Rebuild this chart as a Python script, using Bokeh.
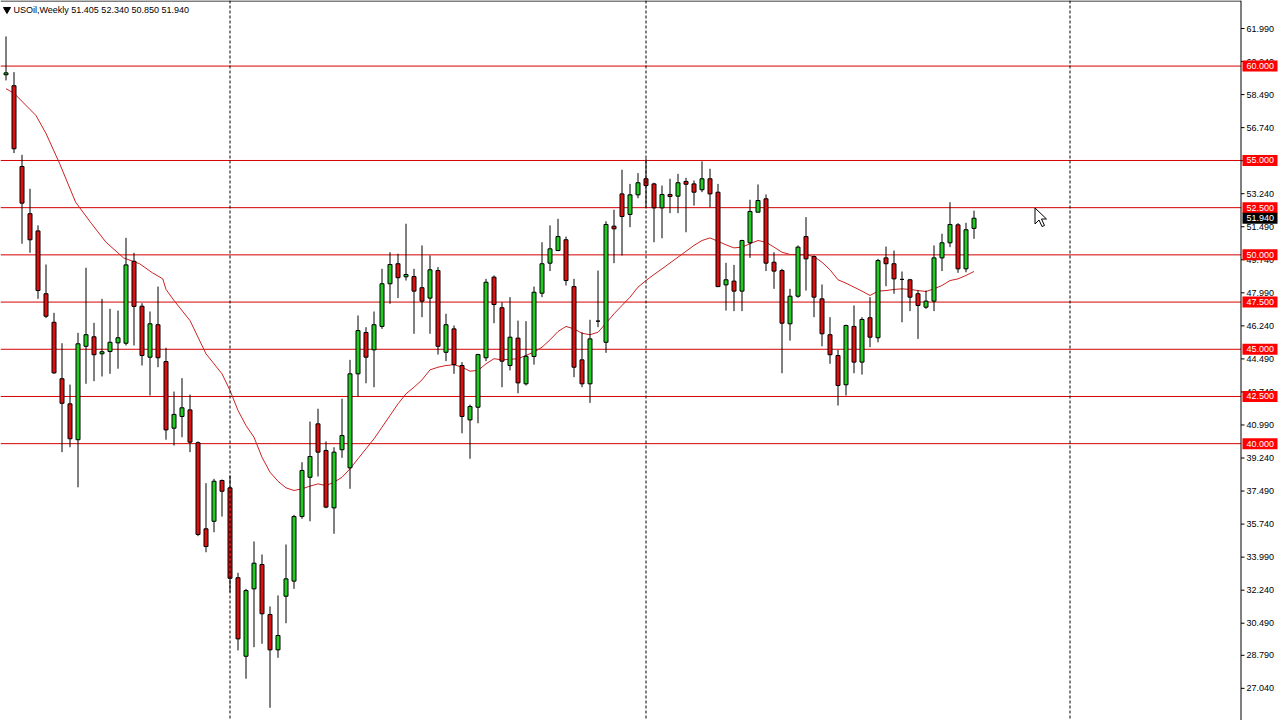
from bokeh.plotting import figure
from bokeh.models import Span, Range1d, ColumnDataSource
from bokeh.core.properties import value
from bokeh.embed import file_html
from bokeh.resources import INLINE

symbol_text = "USOil,Weekly  51.405 52.340 50.850 51.940"

opens = [59.54, 58.96, 54.68, 52.18, 51.27, 47.94, 46.43, 43.44, 42.11, 40.21,
         45.16, 45.66, 44.76, 44.88, 45.34, 45.32, 49.66, 47.28, 44.58, 46.30,
         44.35, 40.82, 41.44, 41.79, 40.05, 35.49, 35.89, 38.05, 37.66, 32.90,
         28.74, 32.31, 33.60, 30.95, 29.08, 31.92, 32.72, 36.14, 38.22, 41.05,
         39.64, 36.60, 39.68, 38.72, 43.70, 45.89, 44.97, 46.21, 48.47, 49.53,
         48.84, 48.85, 48.26, 47.71, 49.17, 44.84, 46.08, 44.14, 41.26, 41.93,
         44.55, 48.82, 47.20, 44.14, 45.59, 43.17, 44.62, 47.97, 49.56, 50.23,
         50.80, 48.32, 44.44, 43.17, 46.49, 45.37, 51.52, 53.23, 52.14, 53.18,
         54.03, 53.76, 52.49, 53.20, 53.11, 53.89, 53.76, 53.45, 54.03, 53.32,
         48.41, 48.61, 48.08, 50.64, 52.26, 52.97, 49.61, 49.17, 46.35, 47.81,
         50.97, 49.91, 47.67, 45.77, 44.67, 43.12, 46.21, 44.32, 46.67, 45.61,
         49.84, 49.53, 48.70, 48.68, 47.94, 47.23, 47.55, 49.84, 50.64, 51.59,
         49.26, 51.405]
highs = [61.57, 59.68, 55.30, 53.50, 51.56, 49.49, 46.93, 45.32, 43.13, 45.87,
         49.32, 46.40, 47.67, 47.14, 47.05, 50.90, 50.11, 47.44, 47.00, 48.32,
         45.08, 42.76, 43.47, 42.60, 40.12, 37.91, 38.14, 38.10, 38.31, 33.16,
         32.31, 34.82, 34.13, 31.38, 31.96, 34.66, 36.23, 39.02, 41.17, 41.85,
         40.12, 39.81, 42.38, 44.44, 46.79, 46.17, 47.00, 49.26, 50.14, 50.06,
         51.65, 49.26, 50.50, 49.97, 49.35, 46.88, 46.26, 44.32, 42.07, 44.76,
         48.73, 48.91, 47.49, 47.76, 46.52, 46.49, 48.32, 50.67, 51.56, 51.91,
         50.97, 48.73, 45.90, 46.56, 49.17, 51.78, 52.39, 54.51, 53.76, 54.33,
         55.10, 53.82, 53.67, 54.03, 54.29, 54.08, 53.94, 54.95, 54.56, 53.76,
         49.58, 49.47, 50.80, 52.92, 53.73, 53.20, 50.14, 49.26, 48.20, 50.50,
         52.00, 49.97, 48.43, 46.70, 44.97, 46.30, 47.32, 46.70, 47.76, 49.79,
         50.44, 50.23, 49.12, 48.73, 48.11, 48.11, 50.50, 51.12, 52.79, 51.68,
         51.70, 52.34]
lows = [59.24, 55.39, 50.59, 50.11, 47.67, 46.65, 43.70, 39.55, 39.81, 37.69,
        43.17, 43.31, 43.56, 43.70, 43.97, 45.20, 45.20, 44.14, 42.55, 44.05,
        40.21, 39.90, 40.34, 39.55, 35.10, 34.25, 35.31, 36.14, 32.13, 29.05,
        27.55, 29.22, 29.40, 26.01, 28.66, 30.49, 32.31, 36.02, 35.89, 38.26,
        36.58, 35.23, 39.25, 37.61, 42.50, 43.20, 42.99, 46.08, 47.41, 47.71,
        48.64, 45.82, 46.70, 45.82, 44.72, 44.37, 43.70, 40.55, 39.20, 41.08,
        44.37, 46.38, 42.99, 43.88, 42.67, 43.08, 44.19, 47.76, 49.14, 50.20,
        48.38, 43.52, 42.99, 42.16, 46.17, 44.81, 49.56, 49.97, 51.47, 53.00,
        52.52, 50.67, 50.88, 52.21, 52.21, 51.20, 52.61, 53.32, 52.52, 48.29,
        47.05, 47.02, 47.02, 49.84, 52.26, 49.14, 48.20, 43.73, 45.46, 47.73,
        48.11, 46.70, 45.16, 44.23, 42.02, 42.55, 43.73, 43.66, 45.11, 45.37,
        48.34, 47.94, 46.43, 47.02, 45.55, 47.14, 47.02, 49.14, 50.41, 49.05,
        49.08, 50.85]
closes = [59.64, 55.62, 52.74, 50.80, 48.11, 46.75, 43.75, 42.14, 40.26, 45.29,
          45.77, 44.71, 44.87, 45.37, 45.61, 49.47, 47.27, 44.67, 46.35, 44.55,
          40.73, 41.55, 41.90, 40.08, 35.19, 34.55, 38.01, 37.48, 32.87, 29.66,
          32.22, 33.67, 30.99, 29.08, 29.84, 32.84, 36.14, 38.58, 39.32, 39.55,
          36.64, 39.55, 40.43, 43.70, 45.99, 44.58, 46.30, 48.47, 49.49, 48.79,
          48.96, 48.08, 47.55, 49.21, 45.16, 46.30, 44.19, 41.44, 41.97, 44.72,
          48.55, 47.37, 44.37, 45.64, 43.22, 44.63, 48.02, 49.53, 50.32, 50.97,
          48.64, 44.05, 43.17, 45.55, 46.49, 51.61, 51.38, 52.03, 53.18, 53.82,
          53.67, 52.49, 53.20, 53.09, 53.82, 53.74, 53.32, 54.03, 53.23, 48.32,
          48.68, 48.08, 50.76, 52.30, 52.88, 49.56, 49.14, 46.38, 47.81, 50.41,
          49.79, 47.76, 45.82, 44.71, 43.08, 46.26, 44.32, 46.58, 45.64, 49.70,
          49.53, 48.73, 48.70, 47.76, 47.32, 47.55, 49.84, 50.64, 51.61, 49.26,
          51.33, 51.94]

ma_idx = [0, 1, 3.75, 5, 6.7, 8.7, 10.7, 12.5, 14.7, 16.7, 18.3, 19.6, 20, 21, 23, 25,
          27, 28, 29, 30, 31, 32, 33, 34, 35, 36, 37, 38, 39, 40, 41, 42, 43, 44, 45,
          46, 47, 48, 49, 50, 51, 52, 53, 54, 55, 56, 57, 58, 59, 60, 61, 62, 64, 66,
          67, 68, 69, 70, 71, 72, 73, 74, 75, 76, 77, 78, 79, 80, 81, 82, 84, 86, 87,
          88, 89, 90, 91, 92, 93, 94, 95, 96, 97, 98, 99, 100, 101, 102, 103, 104,
          105, 106, 107, 108, 109, 110, 111, 112, 113, 114, 115, 116, 117, 118, 119,
          120, 121]
ma_val = [58.80, 58.56, 57.38, 56.43, 54.84, 52.79, 51.65, 50.67, 49.84, 49.53, 49.05,
          48.73, 48.17, 47.58, 46.52, 44.76, 43.70, 42.82, 41.76, 40.96, 40.34, 39.28,
          38.49, 38.01, 37.66, 37.52, 37.61, 37.75, 37.87, 37.78, 37.96, 38.22, 38.67,
          39.20, 39.73, 40.26, 40.87, 41.49, 42.11, 42.64, 42.99, 43.38, 43.91, 44.05,
          44.14, 44.18, 44.05, 43.84, 43.88, 44.23, 44.50, 44.44, 44.50, 44.85, 45.11,
          45.50, 45.94, 46.21, 46.08, 45.85, 45.77, 45.90, 46.38, 46.88, 47.32, 47.76,
          48.29, 48.64, 48.96, 49.26, 49.88, 50.50, 50.76, 50.90, 50.72, 50.53, 50.37,
          50.41, 50.59, 50.76, 50.67, 50.41, 50.14, 50.02, 50.02, 50.00, 49.91, 49.61,
          49.21, 48.68, 48.50, 48.29, 48.08, 47.85, 48.08, 48.11, 48.17, 48.20, 48.17,
          48.11, 48.06, 48.20, 48.38, 48.64, 48.73, 48.91, 49.12]

levels = [60.0, 55.0, 52.5, 50.0, 47.5, 45.0, 42.5, 40.0]
separators = [28, 80, 133]
tick_vals = [61.99, 60.24, 58.49, 56.74, 54.99, 53.24, 51.49, 49.74, 47.99, 46.24,
             44.49, 42.74, 40.99, 39.24, 37.49, 35.74, 33.99, 32.24, 30.49, 28.79,
             27.04]
last_price = 51.94

FONT = "Liberation Sans"
W, H = 1280, 720
PX = 8.0            # pixels per bar
PY = 18.88          # pixels per price unit
X0 = -5.5 / PX
X1 = X0 + W / PX
Y1 = 61.99 + 28 / PY
Y0 = Y1 - H / PY

def sx(px):   # screen x -> bar units
    return X0 + px / PX

def sy(py):   # screen y -> price units
    return Y1 - py / PY

p = figure(width=W, height=H, x_range=Range1d(X0, X1), y_range=Range1d(Y0, Y1),
           x_axis_location=None, y_axis_location=None,
           toolbar_location=None, output_backend="svg", min_border=0)
p.grid.visible = False
p.outline_line_color = None
p.background_fill_color = "white"
p.border_fill_color = "white"

AX = sx(1240.5)

# period separators
for s in separators:
    p.add_layout(Span(location=s, dimension="height", line_color="black",
                      line_width=1, line_dash="3 2"))

# horizontal levels
p.segment(x0=[X0] * len(levels), x1=[AX] * len(levels), y0=levels, y1=levels,
          line_color="#D40000", line_width=1)

# moving average
p.line(ma_idx, ma_val, line_color="#CC2222", line_width=1)

# candles
idx = list(range(len(opens)))
src = ColumnDataSource(dict(
    x=idx, h=highs, l=lows,
    top=[max(a, b) for a, b in zip(opens, closes)],
    bot=[min(a, b) for a, b in zip(opens, closes)],
    col=["#22CC22" if c >= o else "#DD1111" for o, c in zip(opens, closes)],
))
p.segment(x0="x", y0="l", x1="x", y1="h", source=src, line_color="black", line_width=1)
p.vbar(x="x", width=0.5, top="top", bottom="bot", source=src,
       fill_color="col", line_color="black", line_width=1)

# frame: top border and right price axis
p.segment(x0=[X0], x1=[AX], y0=[sy(0.5)], y1=[sy(0.5)], line_color="black", line_width=1)
p.add_layout(Span(location=AX, dimension="height", line_color="black", line_width=1))

tick_lab = ["%.3f" % t for t in tick_vals]
p.segment(x0=[AX] * len(tick_vals), x1=[sx(1244)] * len(tick_vals),
          y0=tick_vals, y1=tick_vals, line_color="black", line_width=1)
p.text(x=[sx(1246)] * len(tick_vals), y=tick_vals, text=tick_lab,
       text_font=value(FONT), text_font_size="9px", text_color="black",
       text_baseline="middle", text_align="left")

# price level boxes
box_x = sx(1259.5)
box_w = 35 / PX
p.rect(x=[box_x] * len(levels), y=levels, width=box_w, height=11, height_units="screen",
       fill_color="#FF0000", line_color=None)
p.text(x=[sx(1246)] * len(levels), y=levels, text=["%.3f" % v for v in levels],
       text_font=value(FONT), text_font_size="9px", text_color="white",
       text_baseline="middle", text_align="left")
p.rect(x=[box_x], y=[last_price], width=box_w, height=11, height_units="screen",
       fill_color="black", line_color=None)
p.text(x=[sx(1246)], y=[last_price], text=["%.3f" % last_price],
       text_font=value(FONT), text_font_size="9px", text_color="white",
       text_baseline="middle", text_align="left")

# symbol line
p.scatter(x=[sx(6.5)], y=[sy(9)], marker="inverted_triangle", size=7,
          fill_color="black", line_color="black")
p.text(x=[sx(13)], y=[sy(9.5)], text=[symbol_text], text_font=value(FONT),
       text_font_size="9px", text_color="black", text_baseline="middle", text_align="left")

# mouse pointer seen in the screenshot
tip_x, tip_y = 1034.5, 207.5
arrow = [(0, 0), (0, 16), (4, 12), (7, 18.5), (9.5, 17.5), (6.5, 11), (11.5, 11)]
p.patch(x=[sx(tip_x + dx) for dx, dy in arrow], y=[sy(tip_y + dy) for dx, dy in arrow],
        fill_color="white", line_color="black", line_width=1)

open("out.html", "w").write(file_html(p, INLINE))
